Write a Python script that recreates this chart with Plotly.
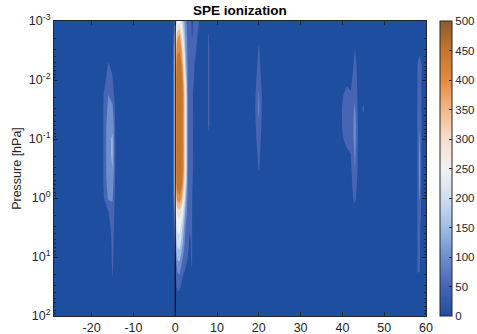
import numpy as np
import plotly.graph_objects as go

# ---------------- data ----------------
# pressure levels (hPa), top of atmosphere -> surface
pressure_hPa = [0.001, 0.00178, 0.00316, 0.00562, 0.01, 0.0178, 0.0316, 0.0562,
                0.1, 0.178, 0.316, 0.562, 1.0, 1.78, 3.16, 5.62,
                10.0, 17.8, 31.6, 56.2, 100.0]

# days relative to the event (daily grid + extra half-day columns)
daily_days = list(range(-29, 61))
half_days = [-0.5, 0.5, 1.5, 2.5, 3.5, 4.5, 5.5, 57.5, 58.5, 59.5]

# ionization profiles (one value per pressure level, top -> bottom); other days = 0
ion_m17 = [0, 0, 0, 0, 30, 58, 62, 62, 62, 62, 62, 62, 52, 20, 0, 0, 0, 0, 0, 0, 0]
ion_m16 = [0, 0, 20, 58, 80, 100, 115, 130, 140, 140, 140, 125, 108, 45, 20, 0, 0, 0, 0, 0, 0]
ion_m15 = [0, 0, 0, 35, 55, 80, 112, 140, 155, 155, 150, 128, 105, 85, 75, 68, 62, 55, 45, 0, 0]

ion_p0 = [150, 250, 320, 360, 380, 380, 380, 380, 380, 380, 380, 360, 300, 220, 170, 120, 80, 50, 20, 0, 0]
ion_p0h = [260, 380, 440, 470, 490, 490, 490, 490, 490, 490, 490, 480, 420, 310, 260, 220, 160, 100, 60, 20, 0]
ion_p1 = [280, 410, 450, 490, 500, 500, 500, 500, 500, 500, 500, 495, 440, 330, 270, 230, 170, 110, 65, 20, 0]
ion_p1h = [230, 330, 400, 450, 490, 490, 490, 490, 490, 490, 490, 470, 400, 290, 230, 190, 130, 80, 40, 0, 0]
ion_p2 = [170, 220, 280, 330, 380, 420, 420, 420, 420, 420, 420, 380, 300, 220, 160, 130, 90, 55, 20, 0, 0]
ion_p2h = [110, 130, 150, 180, 230, 270, 270, 270, 270, 270, 270, 230, 170, 130, 100, 80, 60, 45, 10, 0, 0]
ion_p3 = [80, 85, 90, 95, 100, 100, 100, 100, 100, 100, 100, 100, 90, 80, 70, 60, 52, 30, 0, 0, 0]
ion_p3h = [65, 70, 70, 70, 70, 70, 70, 70, 70, 70, 70, 70, 65, 65, 52, 45, 40, 20, 0, 0, 0]
ion_p4 = [45, 48, 60, 60, 60, 60, 60, 60, 60, 60, 60, 60, 55, 55, 55, 55, 58, 47, 20, 0, 0]
ion_p4h = [55, 55, 55, 55, 50, 40, 40, 40, 40, 40, 40, 30, 20, 10, 0, 0, 0, 0, 0, 0, 0]
ion_p5 = [70, 62, 52, 30, 20, 0, 0, 0, 0, 0, 0, 0, 0, 0, 0, 0, 0, 0, 0, 0, 0]
ion_p5h = [60, 45, 0, 0, 0, 0, 0, 0, 0, 0, 0, 0, 0, 0, 0, 0, 0, 0, 0, 0, 0]
ion_p6 = [40, 10, 0, 0, 0, 0, 0, 0, 0, 0, 0, 0, 0, 0, 0, 0, 0, 0, 0, 0, 0]

ion_p8 = [30, 55, 60, 60, 60, 60, 60, 60, 40, 0, 0, 0, 0, 0, 0, 0, 0, 0, 0, 0, 0]

ion_p19 = [0, 0, 0, 0, 25, 35, 40, 35, 25, 0, 0, 0, 0, 0, 0, 0, 0, 0, 0, 0, 0]
ion_p20 = [0, 30, 62, 75, 90, 105, 110, 95, 85, 75, 58, 20, 0, 0, 0, 0, 0, 0, 0, 0, 0]
ion_p21 = [0, 0, 0, 0, 20, 30, 30, 25, 15, 0, 0, 0, 0, 0, 0, 0, 0, 0, 0, 0, 0]

ion_p40 = [0, 0, 0, 0, 0, 45, 55, 55, 45, 0, 0, 0, 0, 0, 0, 0, 0, 0, 0, 0, 0]
ion_p41 = [0, 0, 0, 0, 40, 65, 75, 75, 65, 40, 20, 0, 0, 0, 0, 0, 0, 0, 0, 0, 0]
ion_p42 = [0, 0, 0, 15, 35, 55, 65, 65, 60, 50, 40, 35, 30, 10, 0, 0, 0, 0, 0, 0, 0]
ion_p43 = [0, 20, 52, 70, 80, 90, 110, 120, 120, 110, 102, 80, 65, 30, 0, 0, 0, 0, 0, 0, 0]
ion_p44 = [0, 0, 10, 20, 20, 20, 20, 20, 20, 20, 20, 15, 10, 0, 0, 0, 0, 0, 0, 0, 0]
ion_p45 = [0, 0, 0, 0, 0, 40, 58, 30, 0, 0, 0, 0, 0, 0, 0, 0, 0, 0, 0, 0, 0]

ion_p58 = [0, 0, 30, 55, 55, 55, 58, 60, 60, 60, 60, 60, 60, 58, 58, 56, 55, 52, 25, 0, 0]
ion_p58h = [0, 0, 45, 60, 70, 75, 85, 95, 110, 120, 125, 120, 105, 80, 70, 62, 58, 50, 25, 0, 0]
ion_p59 = [0, 10, 40, 50, 45, 45, 45, 45, 45, 30, 30, 30, 30, 30, 10, 10, 0, 0, 0, 0, 0]

event_day = 0

x_tick_values = [-20, -10, 0, 10, 20, 30, 40, 50, 60]
x_tick_labels = ["-20", "-10", "0", "10", "20", "30", "40", "50", "60"]
y_tick_values = [0.001, 0.01, 0.1, 1, 10, 100]
y_tick_labels = ["10<sup>-3</sup>", "10<sup>-2</sup>", "10<sup>-1</sup>",
                 "10<sup>0</sup>", "10<sup>1</sup>", "10<sup>2</sup>"]
cbar_tick_values = [0, 50, 100, 150, 200, 250, 300, 350, 400, 450, 500]
cbar_tick_labels = ["0", "50", "100", "150", "200", "250", "300", "350", "400", "450", "500"]

# ---------------- build grid ----------------
profiles = [
    (-17, ion_m17), (-16, ion_m16), (-15, ion_m15),
    (0, ion_p0), (0.5, ion_p0h), (1, ion_p1), (1.5, ion_p1h), (2, ion_p2),
    (2.5, ion_p2h), (3, ion_p3), (3.5, ion_p3h), (4, ion_p4), (4.5, ion_p4h),
    (5, ion_p5), (5.5, ion_p5h), (6, ion_p6),
    (8, ion_p8),
    (19, ion_p19), (20, ion_p20), (21, ion_p21),
    (40, ion_p40), (41, ion_p41), (42, ion_p42), (43, ion_p43), (44, ion_p44), (45, ion_p45),
    (58, ion_p58), (58.5, ion_p58h), (59, ion_p59),
]

days = sorted(set(float(d) for d in daily_days) | set(half_days))
z = np.zeros((len(pressure_hPa), len(days)))
for d, prof in profiles:
    z[:, days.index(float(d))] = prof

# ---------------- colours ----------------
ref_levels = [0, 50, 100, 150, 200, 250, 300, 350, 400, 450, 500]
ref_colors = ["rgb(30,78,160)", "rgb(72,100,180)", "rgb(108,143,205)", "rgb(160,190,228)",
              "rgb(208,222,240)", "rgb(242,242,243)", "rgb(246,222,206)", "rgb(243,182,135)",
              "rgb(226,140,62)", "rgb(196,118,46)", "rgb(142,92,44)"]

cbar_scale = [[lv / 500.0, c] for lv, c in zip(ref_levels, ref_colors)]
# contour bands: band above level L is painted with colour at L
fill_scale = [[lv / 450.0, c] for lv, c in zip(ref_levels[:-1], ref_colors[:-1])]

FONT = "Liberation Sans, Arial, sans-serif"
AX = "#262626"
TICK_SIZE = 12.5

fig = go.Figure()
fig.add_trace(go.Contour(
    x=days, y=pressure_hPa, z=z,
    zmin=0, zmax=500,
    contours=dict(start=50, end=450, size=50, coloring="fill"),
    colorscale=fill_scale,
    line=dict(width=0), line_smoothing=0,
    showscale=False, hoverinfo="skip",
))
fig.add_trace(go.Scatter(
    x=[event_day, event_day], y=[pressure_hPa[-1], pressure_hPa[0]],
    mode="lines", line=dict(color="black", width=1), showlegend=False, hoverinfo="skip",
))
# continuous colour bar
fig.add_trace(go.Scatter(
    x=[-200, -200], y=[1, 1], mode="markers", showlegend=False, hoverinfo="skip",
    marker=dict(color=[0, 500], cmin=0, cmax=500, colorscale=cbar_scale, opacity=0,
                showscale=True,
                colorbar=dict(
                    x=(440 - 54) / 372, xanchor="left", xpad=0, ypad=0,
                    y=0.5, yanchor="middle", len=1, lenmode="fraction",
                    thickness=12, outlinewidth=1, outlinecolor=AX,
                    tickvals=cbar_tick_values, ticktext=cbar_tick_labels,
                    ticks="inside", ticklen=3, tickcolor=AX,
                    tickfont=dict(family=FONT, size=11.5, color=AX),
                )),
))

fig.update_layout(
    width=477, height=334,
    margin=dict(l=54, r=51, t=21, b=18, pad=0, autoexpand=False),
    paper_bgcolor="white", plot_bgcolor="white",
    showlegend=False,
    font=dict(family=FONT, size=TICK_SIZE, color=AX),
    title=dict(text="<b>SPE ionization</b>", x=0.5, xref="paper", xanchor="center",
               y=1 - 10 / 334, yanchor="middle",
               font=dict(family=FONT, size=13.5, color="black")),
    xaxis=dict(range=[-29, 60], tickvals=x_tick_values, ticktext=x_tick_labels,
               ticks="inside", ticklen=4, tickcolor=AX, automargin=False,
               showline=True, linecolor=AX, linewidth=1, mirror="ticks",
               showgrid=False, zeroline=False,
               tickfont=dict(family=FONT, size=TICK_SIZE, color=AX)),
    yaxis=dict(type="log", range=[2, -3], tickvals=y_tick_values, ticktext=y_tick_labels,
               ticks="inside", ticklen=4, tickcolor=AX, automargin=False,
               showline=True, linecolor=AX, linewidth=1, mirror="ticks",
               showgrid=False, zeroline=False,
               minor=dict(ticks="inside", ticklen=2, tickcolor=AX, dtick="D1", showgrid=False),
               tickfont=dict(family=FONT, size=TICK_SIZE, color=AX),
               title=dict(text="Pressure [hPa]", standoff=4,
                          font=dict(family=FONT, size=12.5, color=AX))),
)

fig.write_html("out.html")
